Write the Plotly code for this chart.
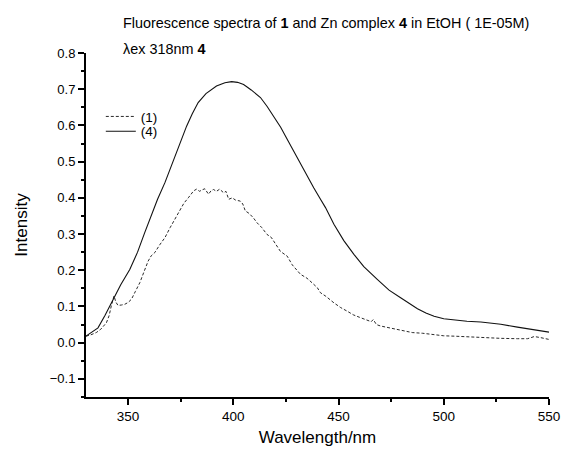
import plotly.graph_objects as go

# ---- data ----
wl_4 = [330, 332, 335.7, 339, 342.9, 346.5, 350.8, 354.5, 357.9, 361, 364, 367.5, 370, 373,
        375.5, 377.8, 380.5, 383.3, 387, 392, 396, 399.2, 402, 404.9, 408.5, 412.9, 416,
        419.2, 422.5, 425.6, 428.8, 431.9, 435, 438.2, 441, 443.8, 447.8, 452.5, 457.3, 462,
        468.4, 474, 479.5, 483.5, 487.5, 491.5, 495.4, 500, 504.9, 511, 517.6, 522, 527.1,
        535, 543, 550]
int_4 = [0.018, 0.026, 0.041, 0.075, 0.12, 0.16, 0.202, 0.25, 0.304, 0.35, 0.396, 0.442, 0.48,
         0.52, 0.56, 0.598, 0.632, 0.663, 0.688, 0.709, 0.718, 0.721, 0.719, 0.713, 0.698,
         0.677, 0.653, 0.626, 0.595, 0.562, 0.527, 0.493, 0.46, 0.428, 0.40, 0.373, 0.327,
         0.282, 0.244, 0.21, 0.175, 0.145, 0.124, 0.108, 0.094, 0.082, 0.073, 0.066, 0.062,
         0.059, 0.057, 0.055, 0.051, 0.043, 0.035, 0.029]

wl_1 = [330, 332, 334.9, 337, 339.7, 341, 342, 343.3, 344.2, 345.2, 346.8, 348.4, 350, 351.6,
        353.5, 355.6, 357.5, 359.5, 361, 362.7, 365, 367.5, 370, 372.2, 374.8, 376.5, 378.6,
        381.1, 382.5, 384, 385.1, 386.5, 388.2, 389.5, 390.6, 392, 393.5, 395.4, 396.5, 397.8,
        399.5, 401, 403.3, 404.5, 405.7, 407.5, 409.5, 411.3, 413.5, 416, 418, 420.8, 422.4,
        425.6, 428, 431.9, 435, 437.5, 439.9, 441.4, 444, 447.8, 451, 454.1, 457, 460, 463.7,
        465.5, 466.5, 468, 470, 475, 479.5, 485, 490, 495.4, 500, 505, 511.3, 518, 527.1, 535,
        539.8, 541.5, 543, 546, 548, 550]
int_1 = [0.018, 0.021, 0.028, 0.037, 0.055, 0.075, 0.101, 0.129, 0.112, 0.103, 0.104, 0.106,
         0.111, 0.12, 0.142, 0.166, 0.195, 0.225, 0.24, 0.249, 0.27, 0.29, 0.318, 0.341, 0.368,
         0.385, 0.40, 0.419, 0.424, 0.418, 0.422, 0.425, 0.41, 0.42, 0.423, 0.418, 0.424,
         0.414, 0.418, 0.396, 0.40, 0.394, 0.391, 0.383, 0.364, 0.357, 0.345, 0.331, 0.318,
         0.299, 0.291, 0.267, 0.252, 0.239, 0.215, 0.189, 0.178, 0.165, 0.152, 0.138, 0.128,
         0.11, 0.097, 0.087, 0.077, 0.07, 0.062, 0.058, 0.064, 0.05, 0.046, 0.04, 0.033,
         0.028, 0.026, 0.022, 0.019, 0.018, 0.016, 0.014, 0.012, 0.011, 0.011, 0.014, 0.017,
         0.014, 0.012, 0.009]

x_ticks = [350, 400, 450, 500, 550]
y_ticks = [-0.1, 0.0, 0.1, 0.2, 0.3, 0.4, 0.5, 0.6, 0.7, 0.8]

title_1 = "Fluorescence spectra of <b>1</b> and Zn complex <b>4</b> in EtOH ( 1E-05M)"
title_2 = "λex 318nm <b>4</b>"

FONT = "Liberation Sans, Arial, sans-serif"

fig = go.Figure()
fig.add_trace(go.Scatter(x=wl_1, y=int_1, mode="lines", name="(1)", legend="legend",
                         line=dict(color="#2a2a2a", width=1, dash="3px,2px")))
fig.add_trace(go.Scatter(x=wl_4, y=int_4, mode="lines", name="(4)", legend="legend2",
                         line=dict(color="#111111", width=1.1)))

axis_common = dict(showline=True, linecolor="black", linewidth=2, ticks="outside",
                   ticklen=6, tickwidth=1.5, tickcolor="black", showgrid=False,
                   zeroline=False, mirror=False, automargin=False)

fig.update_xaxes(range=[330, 550], tickvals=x_ticks,
                 tickfont=dict(family=FONT, size=13.5, color="black"),
                 minor=dict(ticks="outside", ticklen=3, tickwidth=1.5, tickcolor="black",
                            dtick=25, tick0=0),
                 title=dict(text="Wavelength/nm", font=dict(family=FONT, size=17, color="black"),
                            standoff=8),
                 **axis_common)
fig.update_yaxes(range=[-0.15, 0.8], tickvals=y_ticks, tickformat=".1f",
                 tickfont=dict(family=FONT, size=13, color="black"),
                 minor=dict(ticks="outside", ticklen=3, tickwidth=1.5, tickcolor="black",
                            dtick=0.05, tick0=0),
                 title=dict(text="Intensity", font=dict(family=FONT, size=17, color="black"),
                            standoff=18),
                 **axis_common)

fig.add_annotation(text=title_1, xref="paper", yref="paper", x=0.076, y=1.087,
                   xanchor="left", yanchor="middle", showarrow=False,
                   font=dict(family=FONT, size=14.4, color="black"))
fig.add_annotation(text=title_2, xref="paper", yref="paper", x=0.076, y=1.011,
                   xanchor="left", yanchor="middle", showarrow=False,
                   font=dict(family=FONT, size=14.4, color="black"))

leg_common = dict(xanchor="left", yanchor="top", bgcolor="rgba(0,0,0,0)", borderwidth=0,
                  font=dict(family=FONT, size=13.5, color="black"), itemwidth=30)

fig.update_layout(
    width=561, height=449,
    margin=dict(l=86, r=12, t=53, b=52),
    paper_bgcolor="white", plot_bgcolor="white",
    showlegend=True,
    legend=dict(x=0.032, y=0.860, **leg_common),
    legend2=dict(x=0.032, y=0.817, **leg_common),
)

fig.write_html("out.html",
               config={"displayModeBar": False},
               post_script="document.body.style.margin='0';document.body.style.padding='0';")
